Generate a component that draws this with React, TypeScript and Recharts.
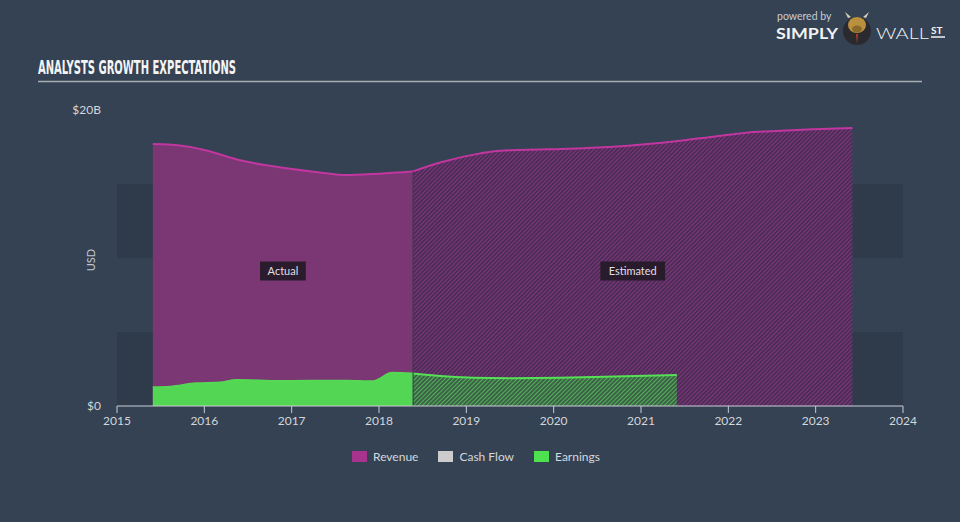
import React from 'react';
import {
  AreaChart,
  Area,
  XAxis,
  YAxis,
  ReferenceArea,
  ReferenceLine,
} from 'recharts';

// revenue (USD billions) — reported history
const revenueActualYears = [2015.41, 2015.72, 2016.0, 2016.41, 2016.9, 2017.3, 2017.63, 2018.0, 2018.39];
const revenueActualValues = [17.7, 17.6, 17.3, 16.6, 16.1, 15.8, 15.6, 15.7, 15.85];

// revenue — analyst estimates
const revenueEstYears = [2018.39, 2018.7, 2019.16, 2019.39, 2019.92, 2020.68, 2021.45, 2021.83, 2022.21, 2022.6, 2022.97, 2023.42];
const revenueEstValues = [15.85, 16.45, 17.07, 17.25, 17.34, 17.52, 17.93, 18.2, 18.47, 18.6, 18.7, 18.78];

// earnings (USD billions)
const earningsActualYears = [2015.41, 2015.61, 2015.91, 2016.18, 2016.37, 2016.87, 2017.63, 2017.93, 2018.15, 2018.39];
const earningsActualValues = [1.26, 1.3, 1.53, 1.58, 1.76, 1.69, 1.71, 1.67, 2.25, 2.2];

const earningsEstYears = [2018.39, 2019.08, 2019.5, 2020.07, 2020.7, 2021.41];
const earningsEstValues = [2.2, 1.91, 1.88, 1.91, 2.0, 2.09];

const yearTicks = [2015, 2016, 2017, 2018, 2019, 2020, 2021, 2022, 2023, 2024];
const valueTicks = [0, 20];
const bandRanges = [[0, 5], [10, 15]];

const splitYear = 2018.39;
const actualStart = 2015.41;
const estimateEnd = 2023.42;

const legendItems = [
  { name: 'Revenue', color: '#a8338f' },
  { name: 'Cash Flow', color: '#cccccc' },
  { name: 'Earnings', color: '#4fe04f' },
];

const BG = '#344253';
const FONT = 'Lato, "Open Sans", sans-serif';

const series: Record<string, [number[], number[]]> = {
  revenueActual: [revenueActualYears, revenueActualValues],
  revenueEst: [revenueEstYears, revenueEstValues],
  earningsActual: [earningsActualYears, earningsActualValues],
  earningsEst: [earningsEstYears, earningsEstValues],
};

const allYears = Array.from(
  new Set(Object.values(series).flatMap(([ys]) => ys))
).sort((a, b) => a - b);

const data = allYears.map((year) => {
  const row: Record<string, number | null> = { year };
  Object.entries(series).forEach(([key, [ys, vs]]) => {
    const i = ys.indexOf(year);
    row[key] = i >= 0 ? vs[i] : null;
  });
  return row;
});

const splitRevenue = revenueEstValues[0];

const PeriodLabel = (props: any) => {
  const { viewBox, text } = props;
  if (!viewBox) return null;
  const cx = viewBox.x + viewBox.width / 2;
  const cy = viewBox.y + viewBox.height / 2 + 13;
  const w = text.length * 6.3 + 8;
  return (
    <g>
      <rect x={cx - w / 2} y={cy - 9.5} width={w} height={19} fill="#221a26" fillOpacity={0.9} />
      <text x={cx} y={cy + 4} textAnchor="middle" fontSize={11} fill="#e2dfe4" fontFamily={FONT}>
        {text}
      </text>
    </g>
  );
};

export default function App() {
  return (
    <div
      style={{
        position: 'absolute',
        left: 0,
        top: 0,
        width: 960,
        height: 522,
        background: BG,
        fontFamily: FONT,
        overflow: 'hidden',
      }}
    >
      <AreaChart
        width={960}
        height={522}
        data={data}
        margin={{ top: 110, right: 57, bottom: 86, left: 0 }}
      >
        <defs>
          <pattern id="revHatch" width="3" height="3" patternUnits="userSpaceOnUse" patternTransform="rotate(45)">
            <rect width="3" height="3" fill="#4b2d56" />
            <line x1="0" y1="0" x2="0" y2="3" stroke="#9a3a90" strokeWidth="1.4" />
          </pattern>
          <pattern id="earnHatch" width="3" height="3" patternUnits="userSpaceOnUse" patternTransform="rotate(45)">
            <rect width="3" height="3" fill="#3d6049" />
            <line x1="0" y1="0" x2="0" y2="3" stroke="#5ad85a" strokeWidth="1.4" />
          </pattern>
        </defs>

        {bandRanges.map(([lo, hi]) => (
          <ReferenceArea
            key={lo}
            x1={2015}
            x2={2024}
            y1={lo}
            y2={hi}
            fill="#2f3b4a"
            fillOpacity={1}
            stroke="none"
            zIndex={-10}
          />
        ))}

        <XAxis
          dataKey="year"
          type="number"
          domain={[2015, 2024]}
          ticks={yearTicks}
          height={30}
          stroke="#c9ced6"
          tickSize={7}
          tickMargin={3}
          tick={{ fill: '#d3d6db', fontSize: 12, fontFamily: FONT }}
        />
        <YAxis
          type="number"
          domain={[0, 20]}
          ticks={valueTicks}
          width={117}
          axisLine={false}
          tickLine={false}
          tickSize={0}
          tickMargin={16}
          tickFormatter={(v: number) => (v === 0 ? '$0' : `$${v}B`)}
          tick={{ fill: '#d3d6db', fontSize: 12, fontFamily: FONT }}
        />

        <Area
          type="monotone"
          dataKey="revenueActual"
          connectNulls
          stroke="#c2369f"
          strokeWidth={2}
          fill="#7b3774"
          fillOpacity={1}
          dot={false}
          activeDot={false}
          isAnimationActive={false}
        />
        <Area
          type="monotone"
          dataKey="revenueEst"
          connectNulls
          stroke="#c2369f"
          strokeWidth={2}
          fill="url(#revHatch)"
          fillOpacity={1}
          dot={false}
          activeDot={false}
          isAnimationActive={false}
        />
        <Area
          type="monotone"
          dataKey="earningsActual"
          connectNulls
          stroke="#55d955"
          strokeWidth={2}
          fill="#52d653"
          fillOpacity={1}
          dot={false}
          activeDot={false}
          isAnimationActive={false}
        />
        <Area
          type="monotone"
          dataKey="earningsEst"
          connectNulls
          stroke="#55e055"
          strokeWidth={2}
          fill="url(#earnHatch)"
          fillOpacity={1}
          dot={false}
          activeDot={false}
          isAnimationActive={false}
        />

        <ReferenceLine
          segment={[
            { x: splitYear, y: 0 },
            { x: splitYear, y: splitRevenue },
          ]}
          stroke="#3d3550"
          strokeWidth={1}
        />

        <ReferenceArea
          x1={actualStart}
          x2={splitYear}
          fill="none"
          stroke="none"
          label={<PeriodLabel text="Actual" />}
        />
        <ReferenceArea
          x1={splitYear}
          x2={estimateEnd}
          fill="none"
          stroke="none"
          label={<PeriodLabel text="Estimated" />}
        />
      </AreaChart>

      <svg width={960} height={522} style={{ position: 'absolute', left: 0, top: 0, pointerEvents: 'none' }}>
        <text
          x={38}
          y={74}
          fontSize={19}
          fontWeight="bold"
          fontFamily='"Liberation Sans Narrow", "DejaVu Sans Condensed", sans-serif'
          fill="#f4f4f4"
          textLength={198}
          lengthAdjust="spacingAndGlyphs"
        >
          ANALYSTS GROWTH EXPECTATIONS
        </text>
        <line x1={38} y1={81.5} x2={922} y2={81.5} stroke="#a9aeb5" strokeWidth={1.5} />

        <text x={95} y={260} transform="rotate(-90 95 260)" textAnchor="middle" fontSize={11} fill="#c3c7cd" fontFamily={FONT}>
          USD
        </text>

        <text x={777} y={20} fontSize={10.5} fill="#c9ccd1" fontFamily={FONT}>powered by</text>
        <text x={776} y={38.5} fontSize={15} fontWeight="bold" fill="#f2f2f2" fontFamily={FONT} textLength={62} lengthAdjust="spacingAndGlyphs">
          SIMPLY
        </text>
        <circle cx={857} cy={31} r={14} fill="#2a2a2e" />
        <ellipse cx={857} cy={25} rx={9} ry={8} fill="#b8903e" />
        <ellipse cx={857} cy={29} rx={5} ry={3.5} fill="#8a6a2a" />
        <path d="M848,18 L845,12 L851,17 Z M866,18 L869,12 L863,17 Z" fill="#d8d0b8" />
        <path d="M856,34 L858,34 L857,44 Z" fill="#c0392b" />
        <text x={876} y={38.5} fontSize={15} fontWeight={300} fill="#f2f2f2" fontFamily={FONT} textLength={53} lengthAdjust="spacingAndGlyphs">
          WALL
        </text>
        <text x={931} y={34} fontSize={10} fontWeight="bold" fill="#f2f2f2" fontFamily={FONT}>ST</text>
        <line x1={931} y1={37} x2={945} y2={37} stroke="#f2f2f2" strokeWidth={1.5} />
      </svg>

      <div
        style={{
          position: 'absolute',
          top: 449,
          left: 352,
          display: 'flex',
          alignItems: 'center',
          fontSize: 12,
          color: '#d5d8dc',
          fontFamily: FONT,
        }}
      >
        {legendItems.map((item) => (
          <div key={item.name} style={{ display: 'flex', alignItems: 'center', marginRight: 20 }}>
            <span style={{ display: 'inline-block', width: 15, height: 11, background: item.color, marginRight: 6 }} />
            <span>{item.name}</span>
          </div>
        ))}
      </div>
    </div>
  );
}
